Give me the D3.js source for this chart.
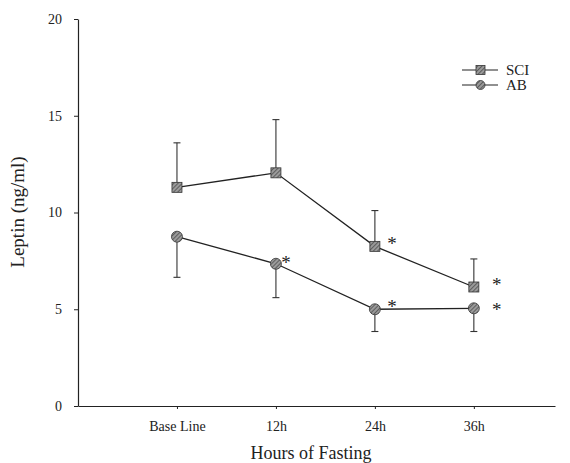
<!DOCTYPE html>
<html><head><meta charset="utf-8">
<script src="https://cdn.jsdelivr.net/npm/d3@7"></script>
<style>body{margin:0;background:#fff}svg text{font-family:"Liberation Serif","DejaVu Serif",serif;fill:#222}</style>
</head><body><svg id="c" width="570" height="463"></svg>
<script>
const categories = ["Base Line","12h","24h","36h"];
const sciMean = [11.3, 12.05, 8.25, 6.15];
const sciErrUp = [13.6, 14.8, 10.1, 7.6];
const abMean = [8.75, 7.35, 5.0, 5.05];
const abErrDown = [6.65, 5.6, 3.85, 3.85];
const sciStars = [false, false, true, true];
const abStars = [false, true, true, true];
const yTicks = [0,5,10,15,20];

const svg = d3.select("#c");
const defs = svg.append("defs");
const pat = defs.append("pattern").attr("id","hatch").attr("patternUnits","userSpaceOnUse")
  .attr("width",3).attr("height",3).attr("patternTransform","rotate(45)");
pat.append("rect").attr("width",3).attr("height",3).attr("fill","#9a9a9a");
pat.append("line").attr("x1",0).attr("y1",0).attr("x2",0).attr("y2",3).attr("stroke","#333").attr("stroke-width",1.2);

const x = d3.scaleLinear().domain([0,4.82]).range([78,555]);
const y = d3.scaleLinear().domain([0,20]).range([406,19]);

// axes
const yAxis = d3.axisLeft(y).tickValues(yTicks).tickSize(4).tickPadding(12).tickSizeOuter(0);
const gy = svg.append("g").attr("transform","translate(78,0)").call(yAxis);
gy.select(".domain").attr("stroke","#222").attr("stroke-width",1.2);
gy.selectAll(".tick line").attr("stroke","#222");
gy.selectAll("text").attr("font-size",14).style("font-family","Liberation Serif").style("fill","#222");

const xAxis = d3.axisBottom(x).tickValues([1,2,3,4]).tickFormat(i=>categories[i-1]).tickSize(3).tickPadding(12).tickSizeOuter(0);
const gx = svg.append("g").attr("transform","translate(0,406)").call(xAxis);
gx.select(".domain").attr("stroke","#222").attr("stroke-width",1.2);
gx.selectAll(".tick line").attr("stroke","#222");
gx.selectAll("text").attr("font-size",14).style("font-family","Liberation Serif").style("fill","#222");

svg.append("text").attr("x",311).attr("y",459).attr("text-anchor","middle").attr("font-size",18).text("Hours of Fasting");
svg.append("text").attr("transform","translate(24,212) rotate(-90)").attr("text-anchor","middle").attr("font-size",19).text("Leptin (ng/ml)");

const xi = i => x(i+1);
const line = d3.line().x((d,i)=>xi(i)).y(d=>y(d));

// error bars
function errs(mean, err){
  const g = svg.append("g").attr("stroke","#333").attr("stroke-width",1.1);
  mean.forEach((m,i)=>{
    g.append("line").attr("x1",xi(i)).attr("x2",xi(i)).attr("y1",y(m)).attr("y2",y(err[i]));
    g.append("line").attr("x1",xi(i)-3.5).attr("x2",xi(i)+3.5).attr("y1",y(err[i])).attr("y2",y(err[i]));
  });
}
errs(sciMean, sciErrUp);
errs(abMean, abErrDown);

svg.append("path").datum(sciMean).attr("d",line).attr("fill","none").attr("stroke","#222").attr("stroke-width",1.3);
svg.append("path").datum(abMean).attr("d",line).attr("fill","none").attr("stroke","#222").attr("stroke-width",1.3);

svg.selectAll(".sq").data(sciMean).enter().append("rect")
  .attr("x",(d,i)=>xi(i)-5).attr("y",d=>y(d)-5).attr("width",10).attr("height",10)
  .attr("fill","url(#hatch)").attr("stroke","#333").attr("stroke-width",0.8);
svg.selectAll(".ci").data(abMean).enter().append("circle")
  .attr("cx",(d,i)=>xi(i)).attr("cy",d=>y(d)).attr("r",5.5)
  .attr("fill","url(#hatch)").attr("stroke","#333").attr("stroke-width",0.8);

// significance stars (offsets from point, px)
const sciStarOff = [[0,0],[0,0],[17,-6],[23,-6]];
const abStarOff = [[0,0],[10,-5],[17,-6],[23,-2]];
function stars(mean, flags, off){
  mean.forEach((m,i)=>{
    if(!flags[i]) return;
    svg.append("text").attr("x",xi(i)+off[i][0]).attr("y",y(m)+off[i][1]+10)
      .attr("font-size",19).attr("text-anchor","middle").style("fill","#222").text("*");
  });
}
stars(sciMean, sciStars, sciStarOff);
stars(abMean, abStars, abStarOff);

// legend
const legend = [{name:"SCI",shape:"sq"},{name:"AB",shape:"ci"}];
legend.forEach((d,k)=>{
  const ly = 70 + k*15;
  svg.append("line").attr("x1",462).attr("x2",498).attr("y1",ly).attr("y2",ly).attr("stroke","#222").attr("stroke-width",1.2);
  if(d.shape==="sq") svg.append("rect").attr("x",476).attr("y",ly-4.5).attr("width",9).attr("height",9).attr("fill","url(#hatch)").attr("stroke","#333").attr("stroke-width",0.8);
  else svg.append("circle").attr("cx",480.5).attr("cy",ly).attr("r",4.5).attr("fill","url(#hatch)").attr("stroke","#333").attr("stroke-width",0.8);
  svg.append("text").attr("x",506).attr("y",ly+5).attr("font-size",15).text(d.name);
});
</script></body></html>
